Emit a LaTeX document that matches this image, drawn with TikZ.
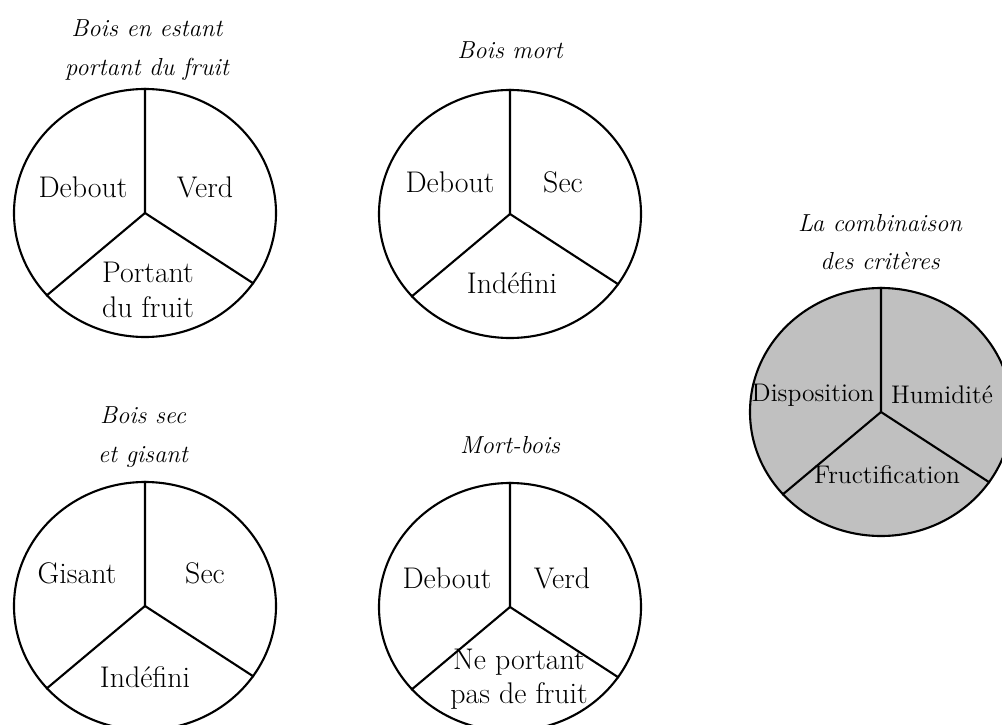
\documentclass[tikz,border=0pt]{standalone}
\usetikzlibrary{shapes.geometric}

\definecolor{critgray}{RGB}{192,192,192}

\begin{document}
\begin{tikzpicture}[
    pie/.style={
        ellipse,
        draw,
        line width=1.2pt,
        minimum width=5.24cm,
        minimum height=4.96cm,
        inner sep=0pt
    },
    spoke/.style={
        line width=1.2pt
    },
    part/.style={
        font=\fontsize{17}{19.5}\selectfont,
        align=center,
        inner sep=1pt
    },
    smallpart/.style={
        font=\fontsize{14.5}{17}\selectfont,
        align=center,
        inner sep=1pt
    },
    title/.style={
        font=\fontsize{14}{22}\selectfont\itshape,
        align=center
    }
]

% Frame of the picture
\useasboundingbox (0, 0) rectangle (20.04, 14.48);
\clip (0, 0) rectangle (20.04, 14.48);

% ========== PIES ==========

\node[pie] (estant) at (2.90, 10.22) {};
\node[pie] (mort) at (10.20, 10.20) {};
\node[pie, fill=critgray] (combin) at (17.62, 6.24) {};
\node[pie] (gisant) at (2.90, 2.36) {};
\node[pie] (mortbois) at (10.20, 2.34) {};

% ========== SPOKES ==========

\draw[spoke] (estant.90) -- (estant.center) -- (estant.-33);
\draw[spoke] (estant.center) -- (estant.220);

\draw[spoke] (mort.90) -- (mort.center) -- (mort.-33);
\draw[spoke] (mort.center) -- (mort.220);

\draw[spoke] (combin.90) -- (combin.center) -- (combin.-33);
\draw[spoke] (combin.center) -- (combin.220);

\draw[spoke] (gisant.90) -- (gisant.center) -- (gisant.-33);
\draw[spoke] (gisant.center) -- (gisant.220);

\draw[spoke] (mortbois.90) -- (mortbois.center) -- (mortbois.-33);
\draw[spoke] (mortbois.center) -- (mortbois.220);

% ========== TITLES ==========

\node[title] (estanttitle) at (2.94, 13.48) {Bois en estant\\portant du fruit};
\node[title] (morttitle) at (10.20, 13.48) {Bois mort};
\node[title] (combintitle) at (17.60, 9.64) {La combinaison\\des critères};
\node[title] (gisanttitle) at (2.86, 5.74) {Bois sec\\et gisant};
\node[title] (mortboistitle) at (10.20, 5.58) {Mort-bois};

% ========== PARTS - BOIS EN ESTANT ==========

\node[part] (estantdebout) at (1.66, 10.74) {Debout};
\node[part] (estantverd) at (4.10, 10.74) {Verd};
\node[part] (estantfruit) at (2.96, 8.68) {Portant\\du fruit};

% ========== PARTS - BOIS MORT ==========

\node[part] (mortdebout) at (9.00, 10.84) {Debout};
\node[part] (mortsec) at (11.26, 10.84) {Sec};
\node[part] (mortindef) at (10.24, 8.82) {Indéfini};

% ========== PARTS - COMBINAISON ==========

\node[smallpart] (combindispo) at (16.26, 6.58) {Disposition};
\node[smallpart] (combinhumid) at (18.84, 6.58) {Humidité};
\node[smallpart] (combinfruct) at (17.74, 4.98) {Fructification};

% ========== PARTS - BOIS SEC ET GISANT ==========

\node[part] (gisantgisant) at (1.54, 3.02) {Gisant};
\node[part] (gisantsec) at (4.10, 3.02) {Sec};
\node[part] (gisantindef) at (2.90, 0.94) {Indéfini};

% ========== PARTS - MORT-BOIS ==========

\node[part] (mortboisdebout) at (8.94, 2.92) {Debout};
\node[part] (mortboisverd) at (11.24, 2.92) {Verd};
\node[part] (mortboisfruit) at (10.38, 0.90) {Ne portant\\pas de fruit};

\end{tikzpicture}
\end{document}
